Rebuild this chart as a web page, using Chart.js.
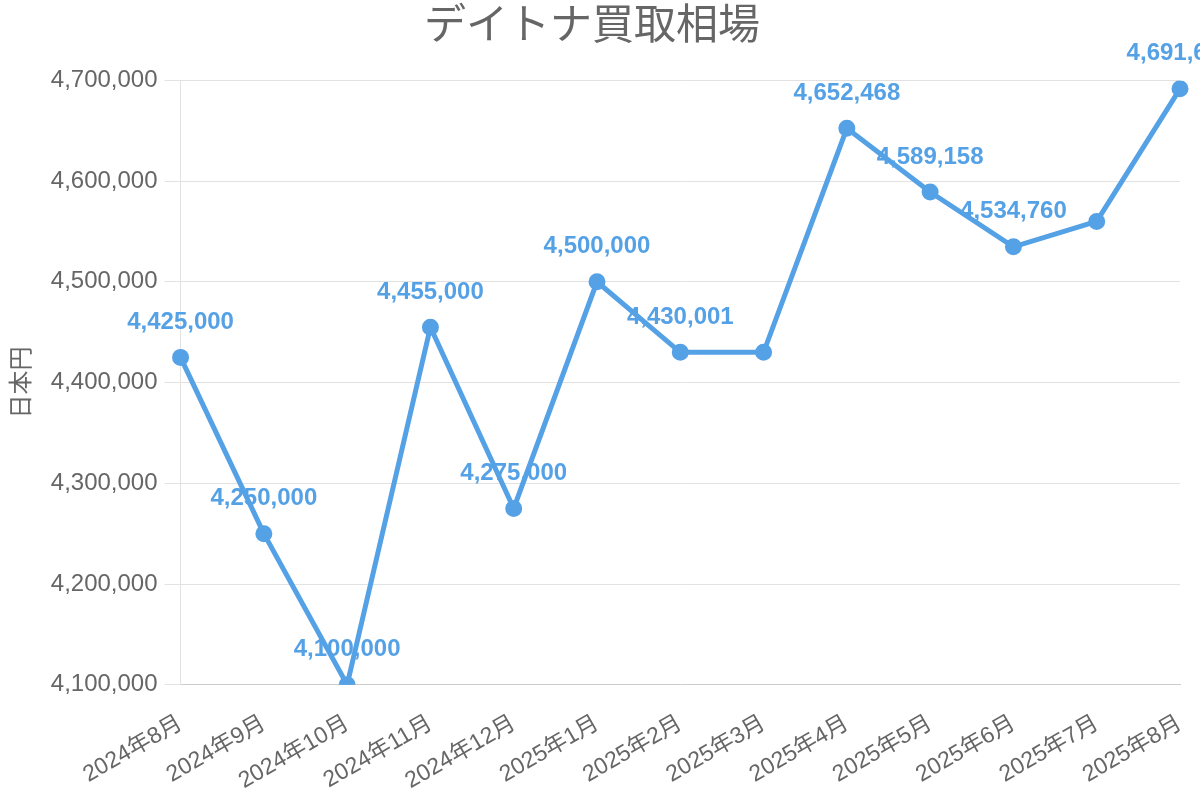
<!DOCTYPE html>
<html>
<head>
<meta charset="utf-8">
<script src="https://cdn.jsdelivr.net/npm/chart.js@4.4.0/dist/chart.umd.min.js"></script>
<style>
  html, body { margin: 0; padding: 0; background: #fff; }
  #wrap { width: 1200px; height: 800px; }
</style>
</head>
<body>
<div id="wrap"><canvas id="c" width="1200" height="800"></canvas></div>
<script>
const chartTitle = 'デイトナ買取相場';
const yAxisTitle = '日本円';
const categories = ['2024年8月','2024年9月','2024年10月','2024年11月','2024年12月','2025年1月','2025年2月','2025年3月','2025年4月','2025年5月','2025年6月','2025年7月','2025年8月'];
const prices = [4425000, 4250000, 4100000, 4455000, 4275000, 4500000, 4430001, 4430001, 4652468, 4589158, 4534760, 4560000, 4691600];
const yMin = 4100000;
const yMax = 4700000;
const yStep = 100000;

const FONT = '"Liberation Sans", Arial, "Noto Sans CJK JP", sans-serif';
const BLUE = '#55a1e6';
const GREY = '#666666';

const fmt = v => v.toLocaleString('en-US');

// Data labels with simple overlap hiding (earlier labels keep priority)
const valueLabels = {
  id: 'valueLabels',
  afterDatasetsDraw(chart) {
    const ctx = chart.ctx;
    const meta = chart.getDatasetMeta(0);
    const data = chart.data.datasets[0].data;
    ctx.save();
    ctx.font = 'bold 24px ' + FONT;
    ctx.fillStyle = BLUE;
    ctx.textAlign = 'center';
    ctx.textBaseline = 'middle';
    const drawn = [];
    meta.data.forEach((pt, i) => {
      const text = fmt(data[i]);
      const w = ctx.measureText(text).width + 8;
      const h = 24 * 1.2 + 8;
      const cx = pt.x, cy = pt.y - 35;
      const box = { l: cx - w / 2, r: cx + w / 2, t: cy - h / 2, b: cy + h / 2 };
      const hit = drawn.some(d => !(box.r < d.l || box.l > d.r || box.b < d.t || box.t > d.b));
      if (hit) return;
      drawn.push(box);
      ctx.fillText(text, cx, cy);
    });
    ctx.restore();
  }
};

new Chart(document.getElementById('c'), {
  type: 'line',
  data: {
    labels: categories,
    datasets: [{
      label: chartTitle,
      data: prices,
      borderColor: BLUE,
      backgroundColor: BLUE,
      borderWidth: 5,
      pointRadius: 6,
      pointHoverRadius: 6,
      pointBackgroundColor: BLUE,
      pointBorderColor: BLUE,
      tension: 0,
      fill: false
    }]
  },
  options: {
    responsive: false,
    animation: false,
    devicePixelRatio: 1,
    layout: { padding: { left: 4, right: 20, top: 0, bottom: 1 } },
    plugins: {
      legend: { display: false },
      tooltip: { enabled: false },
      title: {
        display: true,
        text: chartTitle,
        color: GREY,
        font: { family: FONT, size: 42, weight: 'normal' },
        padding: { top: 2, bottom: 28 }
      }
    },
    scales: {
      x: {
        offset: false,
        grid: { display: false, drawTicks: true, tickLength: 21 },
        border: { display: true, color: '#cccccc', width: 1 },
        ticks: {
          color: GREY,
          font: { family: FONT, size: 23 },
          maxRotation: 30,
          minRotation: 30,
          autoSkip: false,
          padding: 4
        }
      },
      y: {
        min: yMin,
        max: yMax,
        grid: { color: '#e2e2e2', lineWidth: 1, tickLength: 16 },
        border: { display: true, color: '#e2e2e2' },
        ticks: {
          stepSize: yStep,
          color: GREY,
          font: { family: FONT, size: 24 },
          padding: 7,
          callback: v => fmt(v)
        },
        title: {
          display: true,
          text: yAxisTitle,
          color: GREY,
          font: { family: FONT, size: 24 },
          padding: { top: 4, bottom: 7 }
        }
      }
    }
  },
  plugins: [valueLabels]
});
</script>
</body>
</html>
